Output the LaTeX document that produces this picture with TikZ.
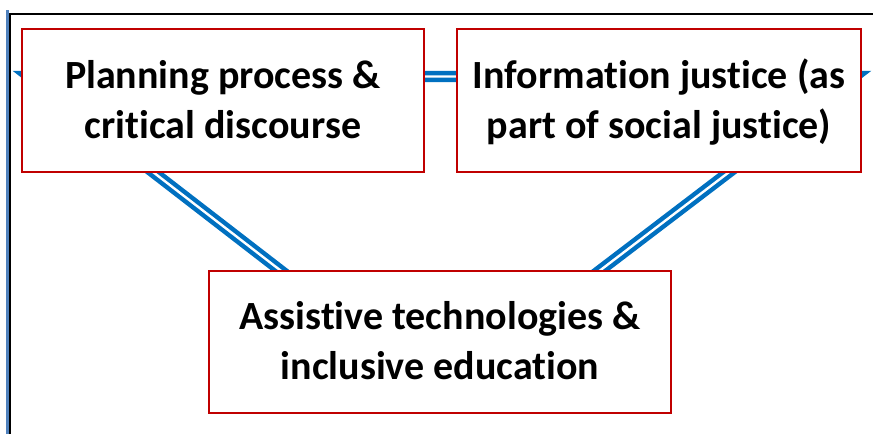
\documentclass[tikz,border=0pt]{standalone}
\usepackage{fontspec}
\setmainfont{Carlito}[Ligatures=NoCommon]
\newcommand\lnstrut{\rule[-0.3em]{0pt}{1.232em}}
\definecolor{linkblue}{RGB}{0,112,192}
\definecolor{boxred}{RGB}{192,0,0}
\definecolor{edgeblue}{RGB}{79,129,189}
\tikzset{
  topicbox/.style={draw=boxred, line width=2pt, fill=white, align=center,
    inner sep=0pt, font=\fontsize{40}{49}\selectfont\bfseries},
  linkline/.style={draw=linkblue, line width=4.5pt, double=white,
    double distance=2.4pt, line join=miter, miter limit=10},
}
\begin{document}
\begin{tikzpicture}[x=1pt,y=-1pt]
\useasboundingbox (0,0) rectangle (873,434);
% frame
\draw[edgeblue, line width=2.5pt] (7.6,10) -- (7.6,434);
\draw[black, line width=2.2pt] (10,434) -- (10,14) -- (873,14);
% triangle connector
\coordinate (tl) at (29.3,76.5);
\coordinate (tr) at (854.5,76.5);
\coordinate (bt) at (439.2,393);
\begin{scope}
\clip (11.2,15.2) rectangle (873,434);
\draw[linkline] (tl) -- (tr) -- (bt) -- cycle;
\end{scope}
% boxes
\node[topicbox, minimum width=402pt, minimum height=143pt] (plan) at (223,100.5)
  {\lnstrut Planning process \&\\critical discourse\lnstrut};
\node[topicbox, minimum width=404pt, minimum height=143pt] (info) at (659,100.5)
  {\lnstrut Information justice (as\\part of social justice)\lnstrut};
\node[topicbox, minimum width=462pt, minimum height=142pt] (assist) at (440,342)
  {\lnstrut Assistive technologies \&\\inclusive education\lnstrut};
\end{tikzpicture}
\end{document}
